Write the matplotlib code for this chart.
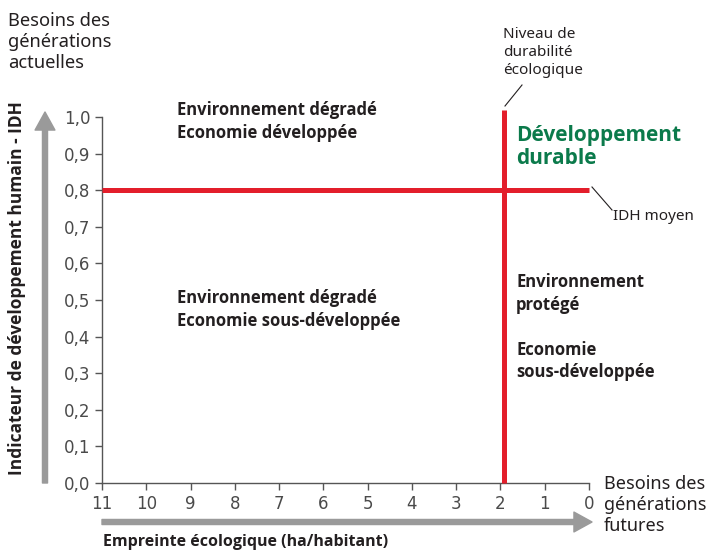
import matplotlib
matplotlib.use("Agg")
import matplotlib.pyplot as plt

# Données du graphique
x_ticks = [11, 10, 9, 8, 7, 6, 5, 4, 3, 2, 1, 0]
y_ticks = [0.0, 0.1, 0.2, 0.3, 0.4, 0.5, 0.6, 0.7, 0.8, 0.9, 1.0]
y_tick_labels = ["0,0", "0,1", "0,2", "0,3", "0,4", "0,5", "0,6", "0,7", "0,8", "0,9", "1,0"]
idh_moyen = 0.8          # seuil IDH
idh_x_range = [11, 0]
durabilite = 1.92        # empreinte durable (ha/habitant)
durabilite_y_range = [0, 1.02]

RED = "#e31e2b"
GREEN = "#0b7a4b"
GRAY = "#9a9a9a"
TEXT = "#231f20"
BOLD_FONT = ["Open Sans", "Lato", "DejaVu Sans"]

plt.rcParams["font.family"] = ["Noto Sans", "DejaVu Sans"]

W, H = 712, 553
fig = plt.figure(figsize=(W / 100, H / 100), dpi=100)


def px(x, y):
    # pixels (origine en haut à gauche) -> fraction de figure
    return x / W, 1 - y / H


ax = fig.add_axes([102 / W, 1 - 483 / H, (589 - 102) / W, (483 - 117) / H])
ax.set_xlim(11, 0)
ax.set_ylim(0, 1.0)

# Lignes rouges
ax.plot(idh_x_range, [idh_moyen, idh_moyen], color=RED, lw=3.6, clip_on=False,
        solid_capstyle="butt", zorder=3)
ax.plot([durabilite, durabilite], durabilite_y_range, color=RED, lw=3.6,
        clip_on=False, solid_capstyle="butt", zorder=3)

# Axes
for side in ["top", "right"]:
    ax.spines[side].set_visible(False)
for side in ["left", "bottom"]:
    ax.spines[side].set_color("#555555")
    ax.spines[side].set_linewidth(1.0)
ax.set_xticks(x_ticks)
ax.set_xticklabels([str(v) for v in x_ticks])
ax.set_yticks(y_ticks)
ax.set_yticklabels(y_tick_labels)
ax.tick_params(axis="both", direction="out", length=5, width=1.0, color="#555555",
               labelcolor="#4a4a4a", labelsize=12, pad=3.5)
for lab in ax.get_xticklabels() + ax.get_yticklabels():
    lab.set_family(["Liberation Sans Narrow", "DejaVu Sans"])

# Flèches grises
arrow = dict(arrowstyle="simple,head_width=0.55,head_length=0.5,tail_width=0.14",
             color=GRAY, mutation_scale=26, shrinkA=0, shrinkB=0)
ax.annotate("", xy=(45, H - 112), xytext=(45, H - 483), xycoords="figure pixels",
            textcoords="figure pixels", arrowprops=arrow)
ax.annotate("", xy=(592, H - 522), xytext=(102, H - 522), xycoords="figure pixels",
            textcoords="figure pixels", arrowprops=arrow)

# Titres des axes
fig.text(*px(17, 288), "Indicateur de développement humain - IDH", rotation=90,
         ha="center", va="center", fontsize=12.5, fontweight="bold", color=TEXT,
         family=BOLD_FONT)
fig.text(*px(103, 542), "Empreinte écologique (ha/habitant)", ha="left",
         va="center", fontsize=11.5, fontweight="bold", color=TEXT, family=BOLD_FONT)

fig.text(*px(8, 12), "Besoins des\ngénérations\nactuelles", ha="left", va="top",
         fontsize=13.2, color=TEXT, linespacing=1.2)
fig.text(*px(604, 475), "Besoins des\ngénérations\nfutures", ha="left", va="top",
         fontsize=13, color=TEXT, linespacing=1.2)

# Annotations
fig.text(*px(503, 27), "Niveau de\ndurabilité\nécologique", ha="left", va="top",
         fontsize=11, color=TEXT, linespacing=1.25)
fig.add_artist(plt.Line2D([522 / W, 505 / W], [1 - 85 / H, 1 - 106 / H], color=TEXT, lw=0.8))
fig.text(*px(613, 217), "IDH moyen", ha="left", va="center", fontsize=11, color=TEXT)
fig.add_artist(plt.Line2D([592 / W, 612 / W], [1 - 187 / H, 1 - 210 / H], color=TEXT, lw=0.8))

fig.text(*px(516, 125), "Développement\ndurable", ha="left", va="top", fontsize=15,
         fontweight="bold", color=GREEN, linespacing=1.15, family=BOLD_FONT)

quad_style = dict(ha="left", va="top", fontsize=12, fontweight="bold", color=TEXT,
                  linespacing=1.33, family=BOLD_FONT)
fig.text(*px(177, 101), "Environnement dégradé\nEconomie développée", **quad_style)
fig.text(*px(177, 289), "Environnement dégradé\nEconomie sous-développée", **quad_style)
fig.text(*px(516, 273), "Environnement\nprotégé\n\nEconomie\nsous-développée", **quad_style)

fig.savefig("out.png", dpi=100)
